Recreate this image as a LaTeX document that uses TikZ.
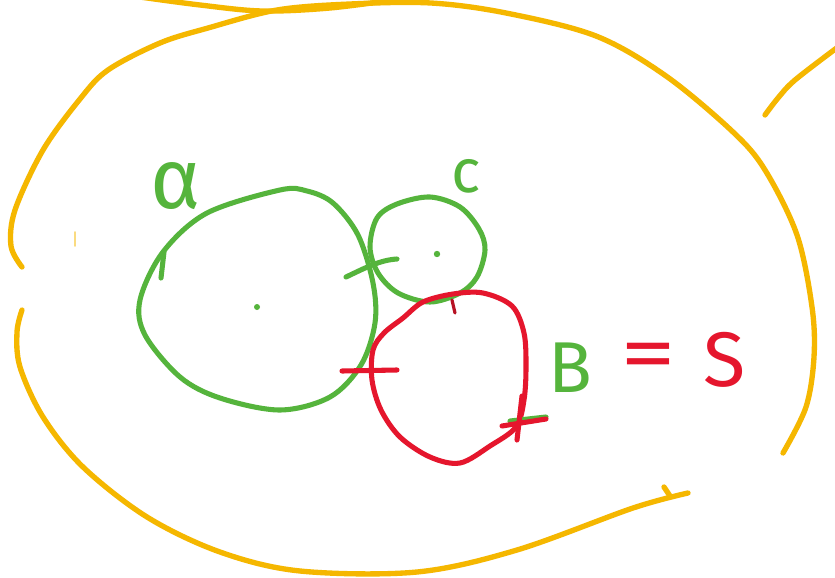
\documentclass[tikz,border=0pt]{standalone}
\usepackage{fontspec}
\setmainfont{Fira Sans}
\definecolor{gold}{HTML}{F5B700}
\definecolor{pgreen}{HTML}{55B43C}
\definecolor{pred}{HTML}{E5162D}
\tikzset{
  goldline/.style={draw=gold,line width=4pt,line cap=round,line join=round},
  greenline/.style={draw=pgreen,line width=3.8pt,line cap=round,line join=round},
  redline/.style={draw=pred,line width=3.8pt,line cap=round,line join=round},
  lbl/.style={inner sep=0pt}
}
\begin{document}
\begin{tikzpicture}[x=0.75pt,y=-0.75pt]
\useasboundingbox (0,0) rectangle (835,578);
\clip (0,0) rectangle (835,578);
\fill[white] (0,0) rectangle (835,578);
% orange outer region
\draw[goldline] plot[smooth,tension=0.55] coordinates {(22,267) (11,246) (15,210) (43,150) (80,99) (108,70) (160,43) (208,28) (277,10) (350,4) (431,3) (506,13) (596,36) (666,76) (733,132) (765,170) (797,235) (812,307) (814,357) (806,407) (783,453)};
\draw[goldline] plot[smooth,tension=0.55] coordinates {(140,-3) (200,5) (262,11) (330,8) (400,-1)};
\draw[goldline] plot[smooth,tension=0.55] coordinates {(22,310) (17,332) (20,367) (43,417) (83,467) (147,517) (220,552) (300,571) (417,572) (517,550) (633,508) (688,493)};
\draw[goldline] (664,487) -- (670,496);
\draw[goldline] plot[smooth,tension=0.55] coordinates {(765,115) (778,98) (795,80) (838,47)};
\draw[draw=gold!50,line width=1.2pt,line cap=round] (75,232) -- (75,246);
% big green circle alpha
\draw[greenline] plot[smooth cycle,tension=0.55] coordinates {(280,190) (307,191) (333,203) (358,235) (373,283) (375,323) (361,365) (330,397) (280,410) (220,398) (180,377) (145,335) (140,300) (163,252) (207,213)};
\fill[pgreen] (257,307) circle (3);
\draw[greenline] (164,252) -- (161,278);
\draw[greenline] (346,277) .. controls (365,268) and (380,260) .. (397,259);
% small green circle c
\draw[greenline] plot[smooth cycle,tension=0.55] coordinates {(397,204) (430,197) (460,207) (479,229) (485,250) (477,277) (460,293) (430,302) (398,293) (378,273) (370,247) (377,218)};
\fill[pgreen] (437,254) circle (3.2);
% red circle
\draw[redline] plot[smooth cycle,tension=0.55] coordinates {(423,302) (453,294) (483,293) (512,306) (524,333) (526,367) (524,400) (516,427) (490,446) (460,463) (430,457) (400,437) (381,410) (372,380) (373,350) (384,333) (403,318)};
\draw[draw=pred!80!black,line width=2.4pt,line cap=round] (452,300) -- (455,313);
\draw[redline] (342,371) -- (397,370);
\draw[greenline] (510,421) -- (546,417);
\draw[redline] (502,426) -- (546,419);
\draw[redline] (522,396) -- (517,440);
% labels
\node[lbl,text=pgreen,font=\fontsize{64}{64}\selectfont] (alpha) at (176,186) {α};
\node[lbl,text=pgreen,font=\fontsize{46}{46}\selectfont] (c) at (466,176) {c};
\node[lbl,text=pgreen,font=\fontsize{54}{54}\selectfont] (B) at (570,368) {B};
\node[lbl,text=pred,font=\fontsize{60}{60}\selectfont,xscale=1.4] (eq) at (648,362) {=};
\node[lbl,text=pred,font=\fontsize{58}{58}\selectfont] (S) at (725,360) {S};
\end{tikzpicture}
\end{document}
